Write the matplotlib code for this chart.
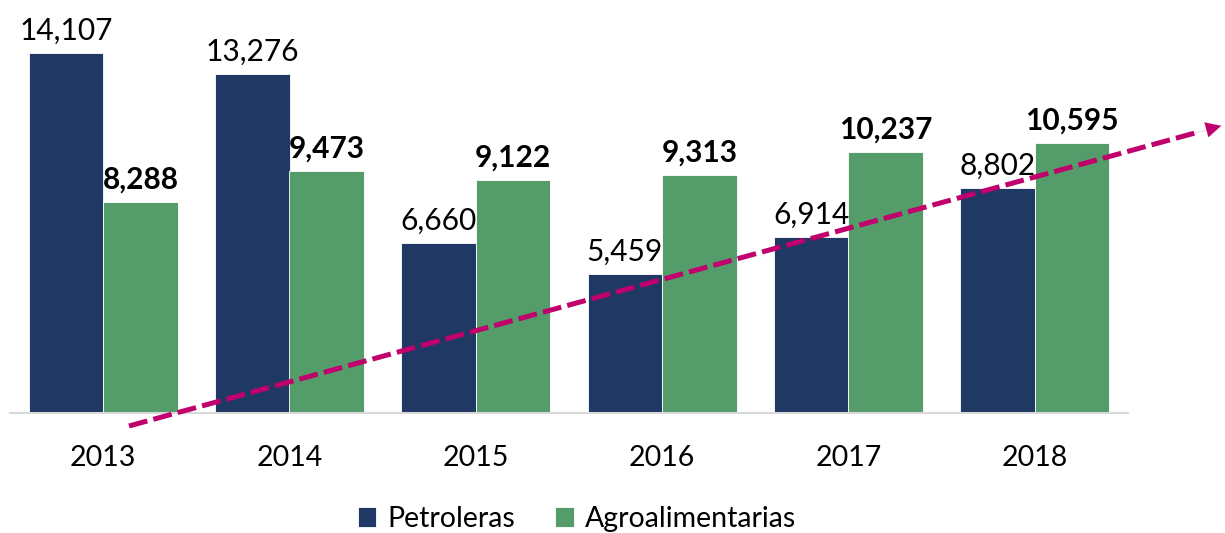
import matplotlib
matplotlib.use("Agg")
import matplotlib.pyplot as plt
import numpy as np

years = ["2013", "2014", "2015", "2016", "2017", "2018"]
petroleras = [14107, 13276, 6660, 5459, 6914, 8802]
agro = [8288, 9473, 9122, 9313, 10237, 10595]

c_pet = "#203864"
c_agro = "#559C6B"
c_arrow = "#C0006C"

plt.rcParams['font.family'] = ['Lato', 'DejaVu Sans']

W, H = 1225, 533
fig = plt.figure(figsize=(W/100, H/100), dpi=100)
ax_left, ax_right = 10/W, 1128/W
ax_bottom = 1 - 413/H
ax_top = 1 - 0/H
ax = fig.add_axes([ax_left, ax_bottom, ax_right - ax_left, ax_top - ax_bottom])

x = np.arange(len(years))
bw = 0.4
b1 = ax.bar(x - bw/2, petroleras, bw, color=c_pet, edgecolor="white", linewidth=0.6, label="Petroleras")
b2 = ax.bar(x + bw/2, agro, bw, color=c_agro, edgecolor="white", linewidth=0.6, label="Agroalimentarias")

ax.set_xlim(-0.5, 5.5)
ax.set_ylim(0, 413 * 39.2)

for xi, v in zip(x - bw/2, petroleras):
    ax.annotate(f"{v:,}", (xi, v), xytext=(0, 6), textcoords="offset points",
                ha="center", va="bottom", fontsize=21.5, color="black")
for xi, v in zip(x + bw/2, agro):
    ax.annotate(f"{v:,}", (xi, v), xytext=(0, 6), textcoords="offset points",
                ha="center", va="bottom", fontsize=21.5, fontweight="bold", color="black")

for s in ["top", "right", "left"]:
    ax.spines[s].set_visible(False)
ax.spines["bottom"].set_color("#D9D9D9")
ax.spines["bottom"].set_linewidth(1.5)
ax.set_yticks([])
ax.set_xticks(x)
ax.set_xticklabels(years, fontsize=20.5)
ax.tick_params(axis="x", length=0, pad=23)
ax.patch.set_alpha(0)

# trend arrow
p0 = (129/W, 1 - 426/H)
p1 = (1224/W, 1 - 125/H)
dx, dy = p1[0]-p0[0], p1[1]-p0[1]
frac = 0.975
fig.add_artist(plt.Line2D([p0[0], p0[0]+dx*frac], [p0[1], p0[1]+dy*frac],
                          transform=fig.transFigure, color=c_arrow, lw=3.6,
                          dashes=(3.8, 1.25), solid_capstyle="butt", dash_capstyle="butt", zorder=5))
ax.annotate("", xy=p1, xycoords="figure fraction",
            xytext=(p0[0]+dx*0.96, p0[1]+dy*0.96), textcoords="figure fraction",
            arrowprops=dict(arrowstyle="-|>,head_length=1.1,head_width=0.55", color=c_arrow, lw=0.1),
            zorder=6, annotation_clip=False)

fig.legend(handles=[b1, b2], loc="center", bbox_to_anchor=(0.471, 1 - 519/H),
           ncol=2, frameon=False, fontsize=20.5, handlelength=0.65, handleheight=0.65,
           handletextpad=0.4, columnspacing=1.4)

fig.savefig("out.png", dpi=100)
